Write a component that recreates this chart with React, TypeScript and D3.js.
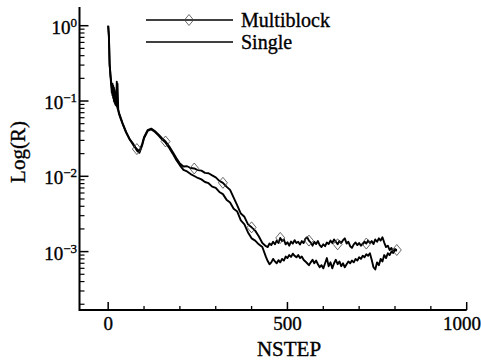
import * as d3 from 'd3'

const W = 481
const H = 362

// NSTEP samples shared by both series
const steps = [
  0, 2, 4, 6, 8, 10, 12, 14, 16, 18, 20, 22, 24, 26, 28, 30, 35, 40, 50, 60, 70, 80, 87, 95,
  100, 110, 120, 130, 140, 150, 160, 170, 180, 190, 200, 210, 220, 230, 240, 250, 260, 270,
  280, 290, 300, 310, 320, 330, 340, 350, 360, 370, 380, 390, 400, 410, 420, 430, 440,
  445, 450, 455, 460, 465, 470, 475, 480, 485, 490, 495, 500, 505, 510, 515, 520, 525, 530,
  535, 540, 545, 550, 555, 560, 565, 570, 575, 580, 585, 590, 595, 600, 605, 610, 615, 620,
  625, 630, 635, 640, 645, 650, 655, 660, 665, 670, 675, 680, 685, 690, 695, 700, 705, 710,
  715, 720, 725, 730, 735, 740, 745, 750, 755, 760, 765, 770, 775, 780, 785, 790, 795, 800, 805,
]

const multiblock = [
  1.0, 0.7, 0.32, 0.22, 0.19, 0.13, 0.17, 0.11, 0.15, 0.095, 0.13, 0.088, 0.18, 0.08, 0.075,
  0.068, 0.058, 0.05, 0.038, 0.031, 0.026, 0.023, 0.0215, 0.027,
  0.033, 0.041, 0.043, 0.04, 0.036, 0.032, 0.029, 0.025, 0.021, 0.0175, 0.0148, 0.0135,
  0.0136, 0.0129, 0.0127, 0.0121, 0.0119, 0.0111, 0.011, 0.0103, 0.0097, 0.0087, 0.0082,
  0.0073, 0.0066, 0.0052, 0.0041, 0.0032, 0.0029, 0.0023, 0.0021, 0.0019, 0.0016, 0.0013,
  0.00118,
  0.00115, 0.00128, 0.00122, 0.00135, 0.00125, 0.0014, 0.0013, 0.00152, 0.00138, 0.00145,
  0.00125, 0.00133, 0.0012, 0.00136, 0.00128, 0.00142, 0.0013, 0.00135, 0.00124, 0.00138,
  0.0013, 0.00148, 0.00155, 0.0014, 0.00132, 0.0012, 0.00135, 0.00126, 0.00138, 0.00122,
  0.00115, 0.00125, 0.00118, 0.00132, 0.00126, 0.0014, 0.0013, 0.00145, 0.00135, 0.00125,
  0.00138, 0.0013, 0.00142, 0.0015, 0.00128, 0.00135, 0.00118, 0.00112, 0.00125, 0.00132,
  0.00122, 0.0013, 0.0012, 0.00126, 0.00135, 0.00128, 0.0014, 0.0013, 0.00138, 0.00126,
  0.00145, 0.00135, 0.0015, 0.0014, 0.00155, 0.00132, 0.00115, 0.0012, 0.00105, 0.00112,
  0.001, 0.00108, 0.00105,
]

const single = [
  1.0, 0.75, 0.3, 0.24, 0.17, 0.15, 0.12, 0.16, 0.1, 0.14, 0.09, 0.12, 0.085, 0.17, 0.078,
  0.07, 0.06, 0.051, 0.039, 0.031, 0.027, 0.022, 0.0205, 0.026,
  0.032, 0.04, 0.042, 0.039, 0.035, 0.031, 0.028, 0.024, 0.02, 0.0165, 0.014, 0.0122,
  0.0116, 0.0107, 0.0101, 0.0095, 0.0091, 0.0084, 0.0081, 0.0073, 0.007, 0.0062, 0.0058,
  0.0049, 0.0045, 0.0037, 0.0034, 0.0026, 0.0023, 0.0018, 0.0015, 0.0014, 0.00125, 0.00115,
  0.00085,
  0.00075, 0.00068, 0.00072, 0.0008, 0.00074, 0.0007, 0.00077, 0.00072, 0.0008, 0.00076,
  0.00086, 0.00082, 0.0009, 0.00085, 0.00094, 0.00088, 0.00084, 0.0009, 0.00082, 0.00086,
  0.00078, 0.00074, 0.0007, 0.00066, 0.00072, 0.00078, 0.0007, 0.00076, 0.00068, 0.00062,
  0.00066, 0.0006, 0.0007, 0.00082, 0.00064, 0.00072, 0.0006, 0.0007, 0.00078, 0.00068,
  0.00074, 0.00064, 0.0007, 0.00062, 0.00068, 0.00074, 0.0007, 0.00076, 0.00072, 0.0008,
  0.00076, 0.00084, 0.0008, 0.00088, 0.00084, 0.00092, 0.00088, 0.00095, 0.00078, 0.00062,
  0.00058, 0.00072, 0.00066, 0.0008, 0.00074, 0.0009, 0.00082, 0.00095, 0.0009, 0.001,
  0.00096, 0.00105, 0.00102,
]

const markerSteps = [80, 160, 240, 320, 400, 480, 560, 640, 720, 805]
const xTicks = [0, 500, 1000]
const xMinorTicks = [100, 200, 300, 400, 600, 700, 800, 900]
const yExponents = [0, -1, -2, -3]
const legendLabels = ['Multiblock', 'Single']

const FONT = "'Liberation Serif', 'DejaVu Serif', serif"

export default function App() {
  const x = d3.scaleLinear().domain([-80, 1000]).range([79.5, 466.7])
  const y = d3.scaleLog().domain([1.677e-4, 1.772]).range([310, 7])
  const [x0, x1] = x.range()
  const [y0, y1] = y.range()

  const line = d3.line<number>()
    .x((_, i) => x(steps[i]))
    .y(d => y(d))

  const yMinor: number[] = []
  for (let k = -4; k <= 0; k++) {
    for (let m = 2; m <= 9; m++) {
      const v = m * Math.pow(10, k)
      if (v >= y.domain()[0] && v <= y.domain()[1]) yMinor.push(v)
    }
  }

  const diamond = 'M0,-5.5L4.5,0L0,5.5L-4.5,0Z'
  // slight outline so the glyphs look as heavy as the scanned original
  const textStyle = { fontFamily: FONT, stroke: '#000', strokeWidth: 0.35 }

  return (
    <svg width={W} height={H} viewBox={`0 0 ${W} ${H}`}
      style={{ position: 'absolute', left: 0, top: 0, background: '#fff', fontFamily: FONT }}>
      <rect width={W} height={H} fill="#fff" />
      <g style={textStyle} fill="#000">
        {xTicks.map(t => {
          const tx = x(t)
          const overflow = tx + 20 > W
          return (
            <text key={'xl' + t} x={overflow ? W : tx} y={330} fontSize={19}
              textAnchor={overflow ? 'end' : 'middle'}>{t}</text>
          )
        })}
        {yExponents.map(e => (
          <text key={'yl' + e} x={x0 - 2.5} y={y(Math.pow(10, e)) + 8} textAnchor="end" fontSize={19}>
            10<tspan fontSize={13} dy={-7}>{e === 0 ? '0' : '\u2212' + Math.abs(e)}</tspan>
          </text>
        ))}
        <text x={289} y={356} fontSize={21} textAnchor="middle">NSTEP</text>
        <text transform={`translate(25,152) rotate(-90)`} fontSize={21} textAnchor="middle">Log(R)</text>
        {legendLabels.map((lab, i) => (
          <text key={lab} x={241} y={27 + i * 22} fontSize={20}>{lab}</text>
        ))}
      </g>

      {/* axes */}
      <line x1={x0} x2={x1} y1={y0} y2={y0} stroke="#000" strokeWidth={2} />
      <line x1={x0} x2={x0} y1={y0 + 1} y2={y1} stroke="#000" strokeWidth={2} />
      {xTicks.map(t => (
        <line key={'xt' + t} x1={x(t)} x2={x(t)} y1={y0} y2={y0 - 8} stroke="#000" strokeWidth={1.5} />
      ))}
      {xMinorTicks.map(t => (
        <line key={'xm' + t} x1={x(t)} x2={x(t)} y1={y0} y2={y0 - 4} stroke="#000" strokeWidth={1.3} />
      ))}
      {yExponents.map(e => (
        <line key={'yt' + e} x1={x0} x2={x0 + 9} y1={y(Math.pow(10, e))} y2={y(Math.pow(10, e))}
          stroke="#000" strokeWidth={1.5} />
      ))}
      {yMinor.map((v, i) => (
        <line key={'ym' + i} x1={x0} x2={x0 + 5} y1={y(v)} y2={y(v)} stroke="#000" strokeWidth={1.2} />
      ))}

      {/* series */}
      <path d={line(single) ?? ''} fill="none" stroke="#000" strokeWidth={1.9} strokeLinejoin="round" />
      <path d={line(multiblock) ?? ''} fill="none" stroke="#000" strokeWidth={1.9} strokeLinejoin="round" />
      {markerSteps.map(s => {
        const i = steps.indexOf(s)
        return (
          <path key={'mk' + s} d={diamond} transform={`translate(${x(s)},${y(multiblock[i])})`}
            fill="none" stroke="#444" strokeWidth={0.8} />
        )
      })}

      {/* legend symbols */}
      {legendLabels.map((lab, i) => {
        const ly = 20 + i * 22
        return (
          <g key={'lg' + lab}>
            <line x1={146} x2={233} y1={ly} y2={ly} stroke="#000" strokeWidth={1.3} />
            {i === 0 && (
              <path d={diamond} transform={`translate(189,${ly})`} fill="none" stroke="#444" strokeWidth={0.8} />
            )}
          </g>
        )
      })}
    </svg>
  )
}
